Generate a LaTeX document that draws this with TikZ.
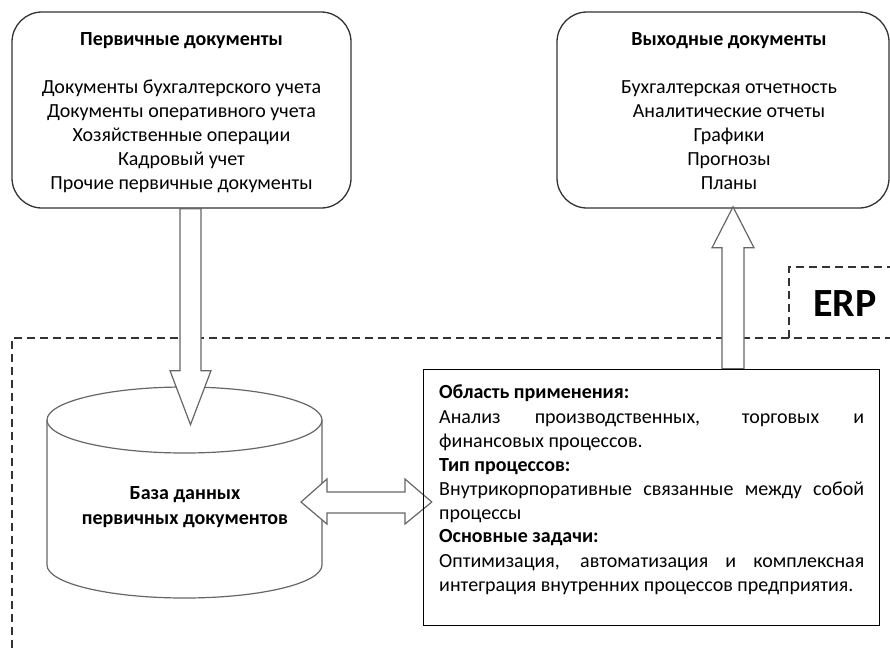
\documentclass[tikz,border=0pt]{standalone}
\usepackage{fontspec}
\setmainfont{Carlito}
\usetikzlibrary{calc}
\tikzset{
  docbox/.style={draw=black!80, line width=1.3pt, rounded corners=30pt, fill=white},
  txt/.style={anchor=base, inner sep=0pt, font=\fontsize{20}{24}\selectfont},
  btxt/.style={txt, font=\fontsize{20}{24}\selectfont\bfseries},
  blockarrow/.style={draw=black!60, line width=1.2pt, fill=white, line join=miter},
  erpline/.style={draw=black!80, line width=2pt, dash pattern=on 8pt off 5pt},
  taskbox/.style={draw=black, line width=1.2pt},
  cyl/.style={draw=black!60, line width=1.2pt, fill=white}
}
\begin{document}
\begin{tikzpicture}[x=1pt,y=-1pt]
\useasboundingbox (0,0) rectangle (890,648);

% ERP region
\draw[erpline] (12,648) -- (12,338) -- (890,338);
\draw[erpline] (789,338) -- (789,267) -- (890,267);
\node[inner sep=0pt, font=\fontsize{40}{44}\selectfont\bfseries] (erp) at (845,304) {ERP};

% top boxes
\node[docbox, minimum width=339pt, minimum height=196pt] (prim) at (181.5,110) {};
\node[docbox, minimum width=332pt, minimum height=196pt] (vyh) at (723,110) {};

\node[btxt] (primT) at (181.5,45) {Первичные документы};
\node[txt] (p1) at (181.5,93) {Документы бухгалтерского учета};
\node[txt] (p2) at (181.5,117) {Документы оперативного учета};
\node[txt] (p3) at (181.5,141) {Хозяйственные операции};
\node[txt] (p4) at (181.5,165) {Кадровый учет};
\node[txt] (p5) at (181.5,189) {Прочие первичные документы};

\node[btxt] (vyhT) at (729,45) {Выходные документы};
\node[txt] (v1) at (729,93) {Бухгалтерская отчетность};
\node[txt] (v2) at (729,117) {Аналитические отчеты};
\node[txt] (v3) at (729,141) {Графики};
\node[txt] (v4) at (729,165) {Прогнозы};
\node[txt] (v5) at (729,189) {Планы};

% database cylinder
\coordinate (dbc) at (184.5,420);
\draw[cyl] (47,420) -- (47,565) arc[start angle=180, end angle=360, x radius=137.5pt, y radius=33pt] -- (322,420);
\draw[cyl] (dbc) ellipse[x radius=137.5pt, y radius=33pt];
\node[btxt] (db1) at (185,499) {База данных};
\node[btxt] (db2) at (185,524) {первичных документов};

% task box
\node[inner sep=0pt, minimum width=455pt, minimum height=255pt] (task) at (651.5,497.5) {};
\coordinate (dtip) at ($(task.west)+(8,4.5)$);

% arrows
\draw[blockarrow] ($(prim.south)+(-1.5,0)$) -- ++(0,162) -- ++(-10,0) -- ++(20.5,54) -- ++(20.5,-54) -- ++(-10,0) -- ++(0,-162) -- cycle;
\draw[blockarrow] ($(task.north)+(70.5,-1)$) -- ++(0,-121) -- ++(-10,0) -- ++(21,-41) -- ++(21,41) -- ++(-10,0) -- ++(0,121) -- cycle;
\draw[blockarrow] (301,502) -- (327,479) -- (327,492) -- (405,492) -- (405,479) -- (dtip) -- (405,524) -- (405,513) -- (327,513) -- (327,524) -- cycle;

\draw[taskbox] (task.north west) rectangle (task.south east);

\node[btxt, anchor=base west] (t1) at (439,398) {Область применения:};
\node[txt, anchor=base west] (t2) at (439,423) {\makebox[425pt][s]{Анализ производственных, торговых и}};
\node[txt, anchor=base west] (t3) at (439,447) {финансовых процессов.};
\node[btxt, anchor=base west] (t4) at (439,471) {Тип процессов:};
\node[txt, anchor=base west] (t5) at (439,495) {\makebox[425pt][s]{Внутрикорпоративные связанные между собой}};
\node[txt, anchor=base west] (t6) at (439,519) {процессы};
\node[btxt, anchor=base west] (t7) at (439,542) {Основные задачи:};
\node[txt, anchor=base west] (t8) at (439,567) {\makebox[425pt][s]{Оптимизация, автоматизация и комплексная}};
\node[txt, anchor=base west] (t9) at (439,591) {интеграция внутренних процессов предприятия.};
\end{tikzpicture}
\end{document}
